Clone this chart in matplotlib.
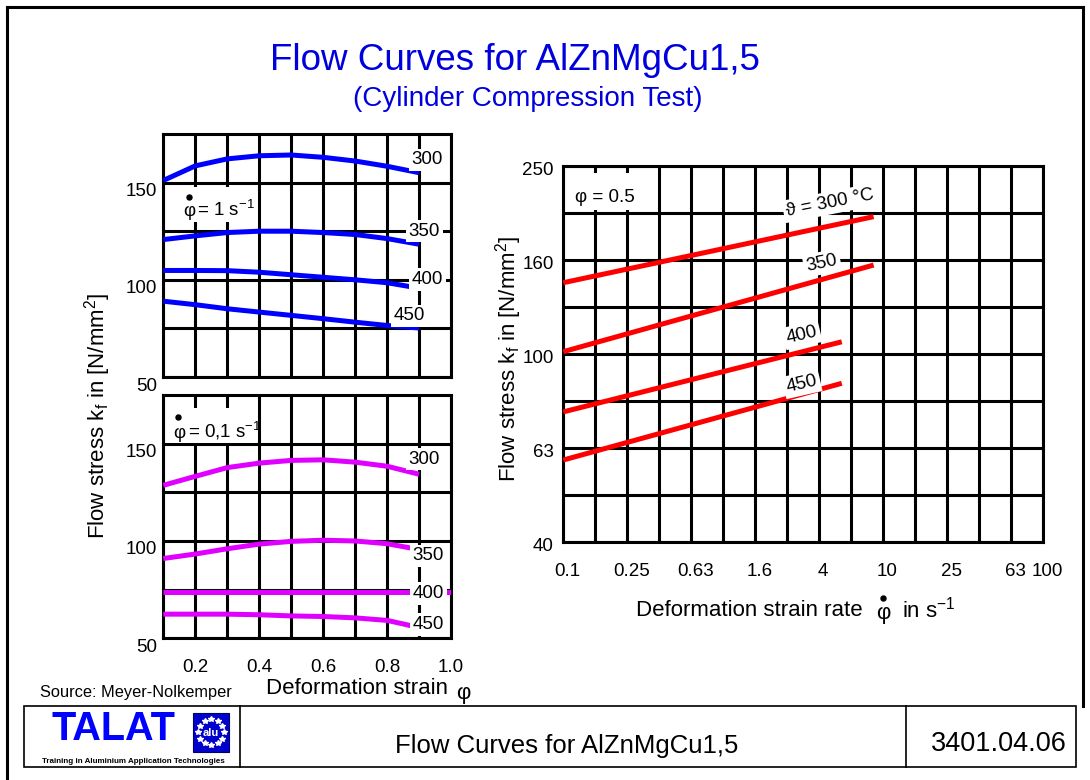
import matplotlib
matplotlib.use('Agg')
import matplotlib.pyplot as plt
import numpy as np
from matplotlib.patches import Rectangle
from matplotlib.lines import Line2D
from matplotlib.transforms import ScaledTranslation
from matplotlib.ticker import NullLocator

plt.rcParams['font.family'] = ['Liberation Sans', 'DejaVu Sans']
plt.rcParams['mathtext.fontset'] = 'custom'
plt.rcParams['mathtext.rm'] = 'Liberation Sans'
plt.rcParams['mathtext.it'] = 'Liberation Sans:italic'
plt.rcParams['mathtext.bf'] = 'Liberation Sans:bold'

# ---------------- data ----------------
strain = [0.1, 0.2, 0.3, 0.4, 0.5, 0.6, 0.7, 0.8, 0.9]
temps = ['300', '350', '400', '450']

# strain rate 1 s^-1
kf_r1_300 = [151.1, 158.6, 162.2, 163.8, 164.2, 163.0, 161.1, 158.4, 155.1]
kf_r1_350 = [120.7, 122.6, 124.3, 125.0, 125.0, 124.3, 123.3, 121.2, 118.3]
kf_r1_400 = [104.8, 104.8, 104.7, 103.9, 102.6, 101.3, 100.0, 98.5, 95.7]
kf_r1_450 = [89.0, 87.2, 85.1, 83.4, 81.7, 80.0, 78.2, 76.5, 75.2]

# strain rate 0.1 s^-1
kf_r01_300 = [128.6, 133.2, 137.7, 140.0, 141.4, 141.7, 140.5, 138.4, 134.3]
kf_r01_350 = [91.0, 93.3, 96.0, 98.4, 99.8, 100.4, 100.0, 98.6, 95.6]
strain_r01_400 = [0.1, 1.0]
kf_r01_400 = [74.0, 74.0]
strain_r01_450 = [0.1, 0.2, 0.3, 0.4, 0.5, 0.6, 0.7, 0.8, 0.85, 0.9]
kf_r01_450 = [62.4, 62.4, 62.4, 62.1, 61.5, 61.2, 60.5, 59.2, 57.4, 55.5]

# phi = 0.5, stress vs strain rate (straight lines in log-log)
rate_300 = [0.1, 8.7]
kf_phi05_300 = [141.6, 195.7]
rate_350 = [0.1, 8.7]
kf_phi05_350 = [101.0, 154.4]
rate_400 = [0.1, 5.5]
kf_phi05_400 = [75.2, 106.0]
rate_450 = [0.1, 5.5]
kf_phi05_450 = [59.4, 86.5]

strain_tick_labels = ['', '0.2', '', '0.4', '', '0.6', '', '0.8', '', '1.0']
stress_tick_labels = ['50', '', '100', '', '150']
rate_tick_labels = ['0.1', '', '0.25', '', '0.63', '', '1.6', '', '4', '', '10', '', '25', '', '63', '100']
stress_log_labels = ['40', '', '63', '', '100', '', '160', '', '250']

# ---------------- figure ----------------
W, H = 1090, 780
fig = plt.figure(figsize=(10.9, 7.8), dpi=100)


def fx(px):
    return px / W


def fy(py):
    return 1 - py / H


def axrect(x0, y0, x1, y1):
    return [fx(x0), fy(y1), fx(x1) - fx(x0), fy(y0) - fy(y1)]


def white_box(x0, y0, x1, y1):
    fig.add_artist(Rectangle((fx(x0), fy(y1)), fx(x1) - fx(x0), fy(y0) - fy(y1),
                             transform=fig.transFigure, fc='white', ec='none', zorder=2))


def dot(px, py):
    fig.add_artist(Line2D([fx(px)], [fy(py)], marker='o', ms=3.6, color='black',
                          ls='none', transform=fig.transFigure, zorder=4))


def line(xs, ys, lw=2.0, color='black'):
    fig.add_artist(Line2D([fx(x) for x in xs], [fy(y) for y in ys], lw=lw,
                          color=color, transform=fig.transFigure, zorder=1,
                          solid_capstyle='projecting'))


GRID_LW = 2.2
CURVE_LW = 3.6
BLUE = '#0000FF'
MAGENTA = '#E000FF'
RED = '#FF0000'


def setup_left(ax, show_x):
    ax.set_xlim(0.1, 1.0)
    ax.set_ylim(50, 175)
    ax.set_xticks(np.round(np.arange(0.1, 1.01, 0.1), 1))
    ax.set_xticklabels(strain_tick_labels if show_x else [''] * 10)
    ax.set_yticks([50, 75, 100, 125, 150])
    ax.set_yticklabels(stress_tick_labels)
    ax.set_axisbelow(True)
    ax.grid(True, color='black', lw=GRID_LW)
    ax.tick_params(length=0, labelsize=13.5)
    ax.tick_params(axis='x', pad=15)
    ax.tick_params(axis='y', pad=4.5)
    for s in ax.spines.values():
        s.set_linewidth(GRID_LW)
    off = ScaledTranslation(0, -7 / 100, fig.dpi_scale_trans)
    for lab in ax.get_yticklabels():
        lab.set_transform(lab.get_transform() + off)


# top-left panel (1 s^-1)
ax1 = fig.add_axes(axrect(163.3, 134, 451, 377))
setup_left(ax1, False)
for ys in (kf_r1_300, kf_r1_350, kf_r1_400, kf_r1_450):
    ax1.plot(strain, ys, color=BLUE, lw=CURVE_LW, solid_capstyle='butt', zorder=3)

# bottom-left panel (0.1 s^-1)
ax2 = fig.add_axes(axrect(163.3, 395, 451, 638.3))
setup_left(ax2, True)
ax2.plot(strain, kf_r01_300, color=MAGENTA, lw=CURVE_LW, solid_capstyle='butt', zorder=3)
ax2.plot(strain, kf_r01_350, color=MAGENTA, lw=CURVE_LW, solid_capstyle='butt', zorder=3)
ax2.plot(strain_r01_400, kf_r01_400, color=MAGENTA, lw=CURVE_LW, solid_capstyle='butt', zorder=3)
ax2.plot(strain_r01_450, kf_r01_450, color=MAGENTA, lw=CURVE_LW, solid_capstyle='butt', zorder=3)

# right panel (phi = 0.5)
ax3 = fig.add_axes(axrect(563.3, 165.7, 1043.3, 541.7))
ax3.set_xscale('log')
ax3.set_yscale('log')
ax3.set_xlim(0.1, 100)
ax3.set_ylim(10 ** 1.6, 10 ** 2.4)
ax3.set_xticks(10 ** np.linspace(-1, 2, 16))
ax3.set_xticklabels(rate_tick_labels)
ax3.set_yticks(10 ** np.linspace(1.6, 2.4, 9))
ax3.set_yticklabels(stress_log_labels)
ax3.xaxis.set_minor_locator(NullLocator())
ax3.yaxis.set_minor_locator(NullLocator())
ax3.set_axisbelow(True)
ax3.grid(True, color='black', lw=GRID_LW)
ax3.tick_params(length=0, labelsize=13.5)
ax3.tick_params(axis='x', pad=15)
ax3.tick_params(axis='y', pad=7)
for s in ax3.spines.values():
    s.set_linewidth(GRID_LW)
offx = ScaledTranslation(4 / 100, 0, fig.dpi_scale_trans)
for lab in ax3.get_xticklabels():
    lab.set_transform(lab.get_transform() + offx)
offy = ScaledTranslation(0, -3 / 100, fig.dpi_scale_trans)
for lab in ax3.get_yticklabels():
    lab.set_transform(lab.get_transform() + offy)
for xs, ys in ((rate_300, kf_phi05_300), (rate_350, kf_phi05_350),
               (rate_400, kf_phi05_400), (rate_450, kf_phi05_450)):
    ax3.plot(xs, ys, color=RED, lw=CURVE_LW, solid_capstyle='butt', zorder=3)

# ---------------- label boxes inside panels ----------------
white_box(166, 187, 257, 222)
white_box(166, 408, 257, 443)
white_box(566, 173, 650, 210)

LBL = 13.5
bb = dict(fc='white', ec='none', pad=2)

# top-left curve labels
for t, (px, py) in zip(temps, [(427.5, 160), (424.5, 231), (427.5, 279.5), (409, 316)]):
    fig.text(fx(px), fy(py), t, ha='center', va='center', fontsize=LBL, bbox=bb)
# bottom-left curve labels
for t, (px, py) in zip(temps, [(424, 459), (428, 556), (428, 593.5), (428, 624.5)]):
    fig.text(fx(px), fy(py), t, ha='center', va='center', fontsize=LBL, bbox=bb)

# rate annotations
fig.text(fx(189), fy(212), 'φ', ha='center', va='center', fontsize=LBL)
dot(189.3, 197.3)
fig.text(fx(197), fy(210), '= 1 s$^{\\mathregular{-1}}$', ha='left', va='center', fontsize=LBL)

fig.text(fx(179), fy(433), 'φ', ha='center', va='center', fontsize=LBL)
dot(178.3, 416.7)
fig.text(fx(188), fy(431), '= 0,1 s$^{\\mathregular{-1}}$', ha='left', va='center', fontsize=LBL)

fig.text(fx(575), fy(197), 'φ = 0.5', ha='left', va='center', fontsize=LBL)

# right panel temperature labels (rotated)
fig.text(fx(830), fy(203), 'ϑ = 300 °C', ha='center', va='center', fontsize=LBL,
         rotation=11, rotation_mode='anchor', bbox=bb)
fig.text(fx(822), fy(263), '350', ha='center', va='center', fontsize=LBL,
         rotation=12, rotation_mode='anchor', bbox=bb)
fig.text(fx(802), fy(335), '400', ha='center', va='center', fontsize=LBL,
         rotation=13, rotation_mode='anchor', bbox=bb)
fig.text(fx(802), fy(384), '450', ha='center', va='center', fontsize=LBL,
         rotation=13, rotation_mode='anchor', bbox=bb)

# ---------------- axis labels ----------------
AXL = 16
ylab = 'Flow stress k$_\\mathregular{f}$ in [N/mm$^\\mathregular{2}$]'
fig.text(fx(98), fy(416), ylab, rotation=90, ha='center', va='center', fontsize=AXL)
fig.text(fx(509), fy(359), ylab, rotation=90, ha='center', va='center', fontsize=AXL)

fig.text(fx(266), fy(688), 'Deformation strain', ha='left', va='center', fontsize=AXL)
fig.text(fx(463), fy(694), 'φ', ha='center', va='center', fontsize=AXL)

fig.text(fx(636), fy(611), 'Deformation strain rate', ha='left', va='center', fontsize=AXL)
fig.text(fx(883), fy(614), 'φ', ha='center', va='center', fontsize=AXL)
dot(883, 598)
fig.text(fx(902), fy(610), 'in s$^{\\mathregular{-1}}$', ha='left', va='center', fontsize=AXL)

fig.text(fx(40), fy(692), 'Source: Meyer-Nolkemper', ha='left', va='center', fontsize=11.8)

# ---------------- titles ----------------
TITLE_C = '#0000DD'
fig.text(fx(515), fy(60), 'Flow Curves for AlZnMgCu1,5', ha='center', va='center',
         fontsize=26.5, color=TITLE_C)
fig.text(fx(528), fy(99), '(Cylinder Compression Test)', ha='center', va='center',
         fontsize=20, color=TITLE_C)

# ---------------- frame & footer ----------------
line([7, 7], [7, 780], lw=2.2)
line([7, 1083], [7, 7], lw=2.2)
line([1083, 1083], [7, 706], lw=2.2)

fig.add_artist(Rectangle((fx(24), fy(767)), fx(1076) - fx(24), fy(706) - fy(767),
                         transform=fig.transFigure, fc='none', ec='black', lw=1.2, zorder=1))
line([239.5, 239.5], [706, 767], lw=1.2)
line([906, 906], [706, 767], lw=1.2)

fig.text(fx(567), fy(746), 'Flow Curves for AlZnMgCu1,5', ha='center', va='center', fontsize=18.5)
fig.text(fx(999), fy(744), '3401.04.06', ha='center', va='center', fontsize=19.5)

# TALAT logo
fig.text(fx(113), fy(729), 'TALAT', ha='center', va='center', fontsize=28.5,
         fontweight='bold', color='#0000FF')
fig.add_artist(Rectangle((fx(192.7), fy(751.7)), fx(229.3) - fx(192.7), fy(713.3) - fy(751.7),
                         transform=fig.transFigure, fc='#0000CC', ec='#000066', lw=0.8, zorder=2))
ang = np.linspace(0, 2 * np.pi, 12, endpoint=False)
fig.add_artist(Line2D([fx(211 + 13 * np.cos(a)) for a in ang],
                      [fy(732 + 13 * np.sin(a)) for a in ang],
                      marker='*', ms=4.0, color='white', ls='none',
                      transform=fig.transFigure, zorder=3))
fig.text(fx(211), fy(733), 'alu', ha='center', va='center', fontsize=8,
         color='white', fontweight='bold')
fig.text(fx(133), fy(761.5), 'Training in Aluminium Application Technologies', ha='center',
         va='center', fontsize=5.8, fontweight='bold')

fig.savefig('out.png', dpi=100)
